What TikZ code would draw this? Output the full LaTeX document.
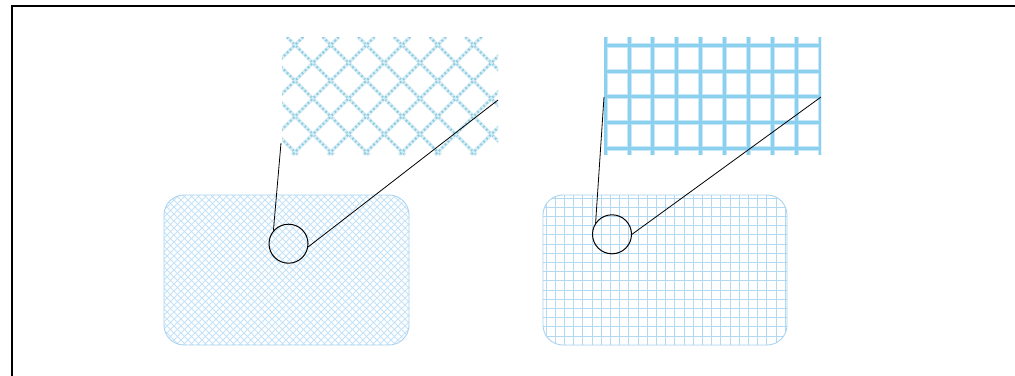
\documentclass[tikz,border=0pt]{standalone}
\definecolor{rimblue}{RGB}{170,212,240}
\definecolor{hatchblue}{RGB}{196,226,248}
\definecolor{gridblue}{RGB}{178,216,242}
\definecolor{magbase}{RGB}{212,236,244}
\definecolor{magdot}{RGB}{140,202,224}
\definecolor{gridlight}{RGB}{200,232,248}
\definecolor{griddark}{RGB}{140,208,240}
\tikzset{
  framepen/.style={line width=2pt,black},
  panel/.style={draw=rimblue,line width=0.9pt,rounded corners=20pt},
  lens/.style={circle,draw=black,line width=1pt,minimum size=39pt,inner sep=0pt},
  leader/.style={black,line width=0.8pt},
}
\begin{document}
\begin{tikzpicture}[x=1pt,y=-1pt]
\useasboundingbox (0,0) rectangle (1015,375);
\fill[white] (0,0) rectangle (1015,375);
% frame
\draw[framepen] (11.7,376) -- (11.7,5.8) -- (1016,5.8);

% ---- left panel: crosshatch
\begin{scope}
  \clip[rounded corners=20pt] (164,195) rectangle (409,345);
  \foreach \k in {-160,-153,...,420}{
    \draw[hatchblue,line width=0.75pt] (\k,195) -- (\k+150,345);
    \draw[hatchblue,line width=0.75pt] (\k,345) -- (\k+150,195);
  }
\end{scope}
\draw[panel] (164,195) rectangle (409,345);

% ---- right panel: square grid
\begin{scope}
  \clip[rounded corners=20pt] (543,195) rectangle (787,345);
  \foreach \k in {0,...,27}{
    \draw[gridblue,line width=0.8pt] (546+9.2*\k,195) -- (546+9.2*\k,345);
  }
  \foreach \k in {0,...,16}{
    \draw[gridblue,line width=0.8pt] (543,198+9.2*\k) -- (787,198+9.2*\k);
  }
\end{scope}
\draw[panel] (543,195) rectangle (787,345);

% ---- left magnified view
\node[inner sep=0pt,minimum width=216pt,minimum height=118pt] (magL) at (390,96) {};
\begin{scope}
  \clip (282,37) rectangle (498,155);
  \foreach \k in {-8,...,9}{
    \draw[magbase,line width=3.4pt] (295+35.7*\k-8,37) -- (295+35.7*\k+118-8,155);
    \draw[magdot,line width=2.2pt,dash pattern=on 1.6pt off 2.6pt] (295+35.7*\k-8,37) -- (295+35.7*\k+118-8,155);
    \draw[magbase,line width=3.4pt] (295+35.7*\k+8,37) -- (295+35.7*\k-118+8,155);
    \draw[magdot,line width=2.2pt,dash pattern=on 1.6pt off 2.6pt] (295+35.7*\k+8,37) -- (295+35.7*\k-118+8,155);
  }
\end{scope}

% ---- right magnified view
\node[inner sep=0pt,minimum width=217pt,minimum height=118pt] (magR) at (712.5,96) {};
\begin{scope}
  \clip (604,37) rectangle (821,155);
  \foreach \x in {605,629,652.5,676,700,724.5,748,772.5,796.5,820}{
    \draw[gridlight,line width=5pt] (\x,37) -- (\x,155);
  }
  \foreach \y in {45,71,96.7,122,148}{
    \draw[gridlight,line width=5pt] (604,\y) -- (821,\y);
  }
  \foreach \x in {605,629,652.5,676,700,724.5,748,772.5,796.5,820}{
    \draw[griddark,line width=3pt] (\x,37) -- (\x,155);
  }
  \foreach \y in {45,71,96.7,122,148}{
    \draw[griddark,line width=3pt] (604,\y) -- (821,\y);
  }
\end{scope}

% ---- lenses and leader lines
\node[lens] (lensL) at (288.5,243.7) {};
\node[lens] (lensR) at (612,234.3) {};
\coordinate (aL) at (281,143);
\coordinate (bL) at (498,100);
\coordinate (aR) at (604,97);
\coordinate (bR) at (821,97);
\draw[leader] (aL) -- (lensL.139);
\draw[leader] (bL) -- (lensL.-9);
\draw[leader] (aR) -- (lensR.145);
\draw[leader] (bR) -- (lensR.0);
\end{tikzpicture}
\end{document}
